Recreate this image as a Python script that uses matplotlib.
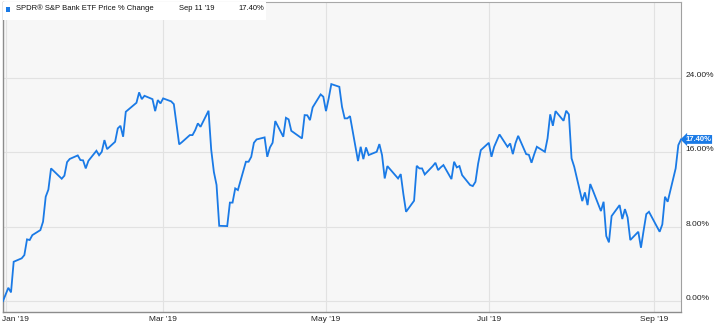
import matplotlib
matplotlib.use("Agg")
import matplotlib.pyplot as plt
from matplotlib.transforms import ScaledTranslation
from matplotlib.patches import Rectangle
import pandas as pd

dates = [
    "2018-12-31", "2019-01-02", "2019-01-03", "2019-01-04", "2019-01-07", "2019-01-08", "2019-01-09",
    "2019-01-10", "2019-01-11", "2019-01-14", "2019-01-15", "2019-01-16", "2019-01-17", "2019-01-18",
    "2019-01-22", "2019-01-23", "2019-01-24", "2019-01-25", "2019-01-28", "2019-01-29", "2019-01-30",
    "2019-01-31", "2019-02-01", "2019-02-04", "2019-02-05", "2019-02-06", "2019-02-07", "2019-02-08",
    "2019-02-11", "2019-02-12", "2019-02-13", "2019-02-14", "2019-02-15", "2019-02-19", "2019-02-20",
    "2019-02-21", "2019-02-22", "2019-02-25", "2019-02-26", "2019-02-27", "2019-02-28", "2019-03-01",
    "2019-03-04", "2019-03-05", "2019-03-06", "2019-03-07", "2019-03-08", "2019-03-11", "2019-03-12",
    "2019-03-13", "2019-03-14", "2019-03-15", "2019-03-18", "2019-03-19", "2019-03-20", "2019-03-21",
    "2019-03-22", "2019-03-25", "2019-03-26", "2019-03-27", "2019-03-28", "2019-03-29", "2019-04-01",
    "2019-04-02", "2019-04-03", "2019-04-04", "2019-04-05", "2019-04-08", "2019-04-09", "2019-04-10",
    "2019-04-11", "2019-04-12", "2019-04-15", "2019-04-16", "2019-04-17", "2019-04-18", "2019-04-22",
    "2019-04-23", "2019-04-24", "2019-04-25", "2019-04-26", "2019-04-29", "2019-04-30", "2019-05-01",
    "2019-05-02", "2019-05-03", "2019-05-06", "2019-05-07", "2019-05-08", "2019-05-09", "2019-05-10",
    "2019-05-13", "2019-05-14", "2019-05-15", "2019-05-16", "2019-05-17", "2019-05-20", "2019-05-21",
    "2019-05-22", "2019-05-23", "2019-05-24", "2019-05-28", "2019-05-29", "2019-05-30", "2019-05-31",
    "2019-06-03", "2019-06-04", "2019-06-05", "2019-06-06", "2019-06-07", "2019-06-10", "2019-06-11",
    "2019-06-12", "2019-06-13", "2019-06-14", "2019-06-17", "2019-06-18", "2019-06-19", "2019-06-20",
    "2019-06-21", "2019-06-24", "2019-06-25", "2019-06-26", "2019-06-27", "2019-06-28", "2019-07-01",
    "2019-07-02", "2019-07-03", "2019-07-05", "2019-07-08", "2019-07-09", "2019-07-10", "2019-07-11",
    "2019-07-12", "2019-07-15", "2019-07-16", "2019-07-17", "2019-07-18", "2019-07-19", "2019-07-22",
    "2019-07-23", "2019-07-24", "2019-07-25", "2019-07-26", "2019-07-29", "2019-07-30", "2019-07-31",
    "2019-08-01", "2019-08-02", "2019-08-05", "2019-08-06", "2019-08-07", "2019-08-08", "2019-08-09",
    "2019-08-12", "2019-08-13", "2019-08-14", "2019-08-15", "2019-08-16", "2019-08-19", "2019-08-20",
    "2019-08-21", "2019-08-22", "2019-08-23", "2019-08-26", "2019-08-27", "2019-08-28", "2019-08-29",
    "2019-08-30", "2019-09-03", "2019-09-04", "2019-09-05", "2019-09-06", "2019-09-09", "2019-09-10",
    "2019-09-11",
]

pct_change = [
    0.00, 1.43, 0.93, 4.23, 4.60, 4.95, 6.64,
    6.57, 7.10, 7.64, 8.54, 11.23, 12.00, 14.28,
    13.17, 13.50, 14.96, 15.30, 15.68, 15.18, 15.15,
    14.28, 15.10, 16.18, 15.70, 16.07, 17.33, 16.36,
    17.15, 18.59, 18.87, 17.69, 20.38, 21.35, 22.47,
    21.74, 22.10, 21.74, 20.45, 21.64, 21.28, 21.82,
    21.50, 21.20, 19.00, 16.87, 17.10, 17.87, 17.87,
    18.40, 19.13, 18.76, 20.49, 16.30, 13.90, 12.50,
    8.10, 8.07, 10.60, 10.60, 12.13, 11.95, 15.00,
    15.00, 15.53, 17.04, 17.40, 17.62, 15.53, 16.54,
    17.04, 19.38, 17.69, 19.73, 19.56, 18.33, 17.51,
    20.02, 20.00, 19.48, 20.85, 22.25, 22.00, 20.45,
    21.80, 23.36, 23.07, 20.92, 19.67, 19.67, 19.91,
    15.07, 16.61, 15.28, 16.54, 15.72, 16.07, 16.90,
    15.72, 13.20, 14.53, 13.20, 13.67, 11.50, 9.61,
    10.80, 14.56, 14.28, 14.28, 13.63, 14.53, 14.89,
    14.10, 14.40, 14.64, 13.13, 15.00, 14.39, 14.53,
    13.56, 12.49, 12.38, 12.84, 14.80, 16.25, 17.04,
    15.53, 16.61, 17.94, 16.61, 16.97, 15.82, 17.00,
    17.79, 15.82, 15.75, 14.89, 15.80, 16.61, 16.07,
    17.51, 20.10, 18.87, 20.45, 19.41, 20.49, 20.10,
    15.36, 14.46, 10.76, 11.70, 10.33, 12.60, 11.90,
    9.69, 10.69, 7.00, 6.32, 9.15, 10.33, 8.83,
    9.90, 9.00, 6.57, 7.46, 5.74, 7.60, 9.36,
    9.61, 7.46, 8.25, 11.23, 10.69, 14.28, 16.79,
    17.40,
]

y_ticks = [0, 8, 16, 24]
y_tick_labels = ["0.00%", "8.00%", "16.00%", "24.00%"]
x_tick_dates = ["2019-01-01", "2019-03-01", "2019-05-01", "2019-07-01", "2019-09-01"]
x_tick_labels = ["Jan '19", "Mar '19", "May '19", "Jul '19", "Sep '19"]

series_name = "SPDR® S&P Bank ETF Price % Change"
last_date_label = "Sep 11 '19"
last_value_label = "17.40%"

LINE = "#1a7ae6"
plt.rcParams["font.family"] = ["Liberation Sans", "DejaVu Sans"]

x = pd.to_datetime(dates)
fig = plt.figure(figsize=(7.2, 3.26), dpi=100)
fig.patch.set_facecolor("white")
W, H = 720, 326
ax = fig.add_axes([3 / W, (H - 312) / H, (681 - 3) / W, (312 - 2) / H])
ax.set_facecolor("#f7f7f7")

ax.plot(x, pct_change, color=LINE, lw=1.3, solid_joinstyle="miter", zorder=3)

ax.set_xlim(x[0], x[-1])
ax.set_ylim(-1.18, 32.2)

ax.set_yticks(y_ticks)
ax.set_yticklabels(y_tick_labels)
ax.yaxis.tick_right()
ax.tick_params(axis="y", length=0, pad=3, labelsize=6, labelcolor="#222222")
for lab in ax.get_yticklabels():
    lab.set_transform(lab.get_transform() + ScaledTranslation(0, 3.5 / 100, fig.dpi_scale_trans))

ax.set_xticks(pd.to_datetime(x_tick_dates))
ax.set_xticklabels(x_tick_labels)
ax.tick_params(axis="x", length=0, pad=3, labelsize=6, labelcolor="#222222")
xl = ax.get_xticklabels()
xl[0].set_transform(xl[0].get_transform() + ScaledTranslation(10 / 100, 0, fig.dpi_scale_trans))

ax.grid(True, color="#e2e2e2", lw=0.8, zorder=0)

for side in ["left", "bottom"]:
    ax.spines[side].set_color("#8c8c8c")
    ax.spines[side].set_linewidth(1.0)
ax.spines["right"].set_color("#a0a0a0")
ax.spines["right"].set_linewidth(0.8)
ax.spines["top"].set_color("#a8a8a8")
ax.spines["top"].set_linewidth(0.8)

# header legend band
ax.add_patch(Rectangle((0, 1 - 18 / 310), (266 - 3) / 678, 18 / 310, transform=ax.transAxes,
                       facecolor="white", edgecolor="none", zorder=4))
ax.add_patch(Rectangle((3 / 678, 1 - 9.5 / 310), 4 / 678, 4 / 310, transform=ax.transAxes,
                       facecolor=LINE, edgecolor="none", zorder=5))
ax.text(13 / 678, 1 - 6.5 / 310, series_name, transform=ax.transAxes, fontsize=5.5,
        va="center", ha="left", color="#111111", zorder=5)
ax.text(176 / 678, 1 - 6.5 / 310, last_date_label, transform=ax.transAxes, fontsize=5.5,
        va="center", ha="left", color="#111111", zorder=5)
ax.text(235 / 678, 1 - 6.5 / 310, last_value_label, transform=ax.transAxes, fontsize=5.5,
        va="center", ha="left", color="#111111", zorder=5)

# last value flag
ax.annotate(last_value_label, xy=(x[-1], pct_change[-1]), xycoords="data",
            xytext=(3, 0), textcoords="offset points", fontsize=5.5, fontweight="bold",
            color="white", va="center", ha="left", annotation_clip=False, zorder=6,
            bbox=dict(boxstyle="larrow,pad=0.12", facecolor=LINE, edgecolor="none"))

fig.savefig("out.png", dpi=100, facecolor="white")
